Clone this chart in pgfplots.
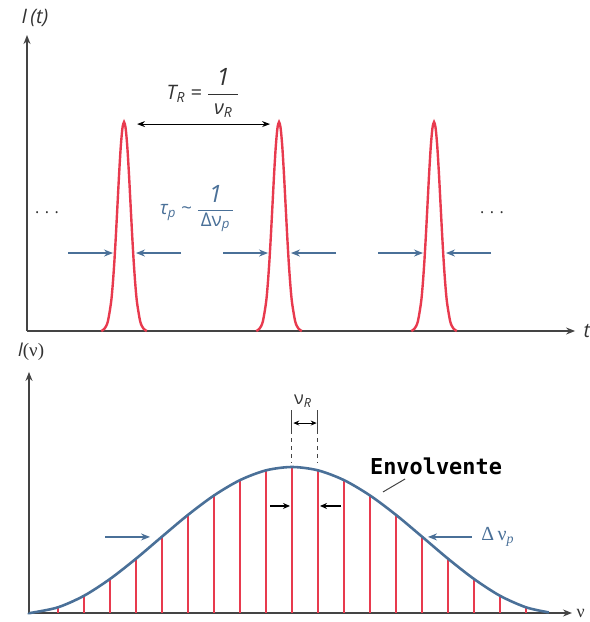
\documentclass[border=0pt]{standalone}
\usepackage{fontspec}
\setmainfont{Open Sans}
\newfontfamily\monofont{DejaVu Sans Mono}
\newfontfamily\seriffont{Liberation Serif}
\usepackage{amsmath}
\usepackage{pgfplots}
\usepackage{pgfplotstable}
\pgfplotsset{compat=1.18}
\usetikzlibrary{arrows.meta}

\definecolor{pulsered}{RGB}{232,58,78}
\definecolor{steel}{RGB}{74,112,152}
\definecolor{axisgray}{RGB}{68,68,68}
\definecolor{txtgray}{RGB}{50,50,50}

% one pulse, offsets from its centre (units of T_R)
\pgfplotstableread{
dt      I
-0.147  0
-0.126  0.0111
-0.105  0.0439
-0.084  0.1353
-0.0735 0.2163
-0.063  0.3247
-0.0525 0.4578
-0.042  0.6065
-0.0315 0.7548
-0.021  0.8825
-0.0105 0.9692
0       1
0.0105  0.9692
0.021   0.8825
0.0315  0.7548
0.042   0.6065
0.0525  0.4578
0.063   0.3247
0.0735  0.2163
0.084   0.1353
0.105   0.0439
0.126   0.0111
0.147   0
}\pulse

% modes (units of nu_R from the centre)
\pgfplotstableread{
k   I
-9  0.039
-8  0.118
-7  0.233
-6  0.372
-5  0.523
-4  0.672
-3  0.805
-2  0.910
-1  0.977
0   1
1   0.977
2   0.910
3   0.805
4   0.672
5   0.523
6   0.372
7   0.233
8   0.118
9   0.039
}\modes

% envelope
\pgfplotstableread{
k       I
-10.115 0.001
-10     0.002
-9      0.039
-8      0.118
-7      0.233
-6      0.372
-5      0.523
-4      0.672
-3      0.805
-2      0.910
-1      0.977
0       1
1       0.977
2       0.910
3       0.805
4       0.672
5       0.523
6       0.372
7       0.233
8       0.118
9       0.039
9.88    0.004
}\envelope

\pgfplotsset{
  sketch/.style={
    axis lines=left,
    axis line style={axisgray, line width=1.4pt, -{Stealth[length=9pt,width=7pt]}},
    xtick=\empty, ytick=\empty,
    clip=false,
    anchor=south west,
  },
}
\tikzset{
  blue arrow/.style={steel, line width=1.4pt, -{Stealth[length=9pt,width=7pt]}},
  black arrow/.style={black, line width=1.1pt, -{Stealth[length=7pt,width=6pt]}},
}
% big numerator for the fractions
\newcommand\bignum{\text{\fontsize{24}{26}\selectfont\itshape 1}}

\begin{document}
\begin{tikzpicture}
\useasboundingbox (0,0) rectangle (590bp,622bp);

%-----------------------------
% Top: pulse train I(t)
%-----------------------------
\begin{axis}[
    sketch,
    at={(27bp,291bp)},
    x=155bp, y=209bp,
    xmin=-0.626, xmax=2.910,
    ymin=0, ymax=1.416,
]
\addplot[pulsered, line width=2.4pt, smooth] table[x expr=\thisrow{dt}, y=I] {\pulse};
\addplot[pulsered, line width=2.4pt, smooth] table[x expr=\thisrow{dt}+1, y=I] {\pulse};
\addplot[pulsered, line width=2.4pt, smooth] table[x expr=\thisrow{dt}+2, y=I] {\pulse};

% period
\draw[black, line width=1.1pt, {Stealth[length=8pt,width=6pt]}-{Stealth[length=8pt,width=6pt]}]
    (0.084,0.990) -- (0.942,0.990);
\node[txtgray, font=\fontsize{20}{22}\selectfont] at (0.51,1.139)
    {\itshape T\textsubscript{R} = $\dfrac{\bignum}{\text{\hspace{6pt}ν\textsubscript{\itshape R}\hspace{6pt}}}$};

% pulse width
\node[steel, font=\fontsize{19}{21}\selectfont] at (0.471,0.584)
    {\itshape τ\textsubscript{p} \textasciitilde\ $\dfrac{\bignum}{\text{\hspace{3pt}\upshape Δν\textsubscript{\itshape p}\hspace{3pt}}}$};
\draw[blue arrow] (-0.361,0.373) -- (-0.071,0.373);
\draw[blue arrow] (0.368,0.373) -- (0.077,0.373);
\draw[blue arrow] (0.639,0.373) -- (0.929,0.373);
\draw[blue arrow] (1.368,0.373) -- (1.077,0.373);
\draw[blue arrow] (1.639,0.373) -- (1.929,0.373);
\draw[blue arrow] (2.368,0.373) -- (2.077,0.373);

\node[txtgray, font=\fontsize{16}{18}\selectfont] at (-0.497,0.565) {. . .};
\node[txtgray, font=\fontsize{16}{18}\selectfont] at (2.374,0.565) {. . .};

\node[txtgray, font=\fontsize{20}{22}\selectfont] at (-0.574,1.498) {\itshape I\,(t)};
\node[txtgray, font=\fontsize{20}{22}\selectfont, anchor=west] at (2.942,0) {\itshape t};
\end{axis}

%-----------------------------
% Bottom: spectrum I(nu)
%-----------------------------
\begin{axis}[
    sketch,
    at={(29bp,9bp)},
    x=26bp, y=146bp,
    xmin=-10.115, xmax=10.77,
    ymin=0, ymax=1.651,
]
\addplot[ycomb, pulsered, line width=2.4pt, mark=none] table[x=k, y=I] {\modes};
\addplot[steel, line width=2.6pt, smooth] table[x=k, y=I] {\envelope};

% mode spacing
\draw[axisgray, line width=1pt] (0,1.390) -- (0,1.253) (1,1.390) -- (1,1.253);
\draw[axisgray, line width=1pt, dash pattern=on 4pt off 4pt] (0,1.253) -- (0,1.034) (1,1.253) -- (1,1.034);
\draw[black, line width=1.1pt, {Stealth[length=6pt,width=5pt]}-{Stealth[length=6pt,width=5pt]}]
    (0.05,1.301) -- (0.95,1.301);
\node[txtgray, font=\fontsize{18}{20}\selectfont] at (0.42,1.452) {ν\textsubscript{\itshape R}};

\draw[black arrow] (-0.846,0.733) -- (-0.077,0.733);
\draw[black arrow] (1.885,0.733) -- (1.077,0.733);

% bandwidth
\draw[blue arrow] (-7.19,0.521) -- (-5.46,0.521);
\draw[blue arrow] (6.92,0.521) -- (5.23,0.521);
\node[steel, font=\fontsize{20}{22}\selectfont, anchor=west] at (7.15,0.521)
    {\seriffont Δ\,ν\textsubscript{\itshape p}};

% envelope label
\node[black, font=\fontsize{22}{24}\selectfont] at (5.54,1.007) {\monofont\bfseries Envolvente};
\draw[axisgray, line width=1pt] (3.5,0.829) -- (4.35,0.918);

\node[txtgray, font=\fontsize{19}{21}\selectfont] at (-10.04,1.788) {\itshape I{\seriffont\upshape (ν)}};
\node[txtgray, font=\fontsize{18}{20}\selectfont, anchor=west, inner sep=1pt] at (10.9,0) {\seriffont ν};
\end{axis}

\end{tikzpicture}
\end{document}
